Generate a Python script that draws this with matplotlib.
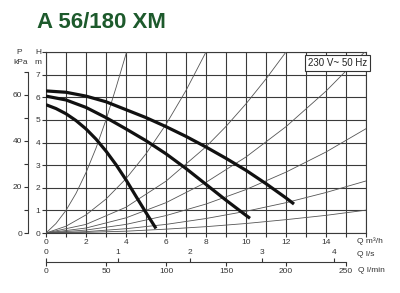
"""Curvas características da bomba A 56/180 XM"""
import matplotlib.pyplot as plt

plt.rcParams['font.family'] = ['Liberation Sans', 'DejaVu Sans']

# Curvas da bomba (3 velocidades): vazão Q [m3/h] e altura H [m]
q_vel3 = [0, 1, 2, 3, 4, 5, 6, 7, 8, 9, 10, 11, 12, 12.4]
h_vel3 = [6.28, 6.22, 6.05, 5.8, 5.45, 5.1, 4.7, 4.27, 3.8, 3.3, 2.77, 2.18, 1.55, 1.28]
q_vel2 = [0, 1, 2, 3, 4, 5, 6, 7, 8, 9, 10, 10.2]
h_vel2 = [6.05, 5.88, 5.55, 5.1, 4.6, 4.08, 3.5, 2.85, 2.15, 1.45, 0.78, 0.65]
q_vel1 = [0, 0.5, 1, 1.5, 2, 2.5, 3, 3.5, 4, 4.5, 5, 5.5]
h_vel1 = [5.67, 5.5, 5.27, 4.97, 4.6, 4.15, 3.62, 3.02, 2.35, 1.62, 0.9, 0.2]

# Curvas do sistema (linhas finas saindo da origem)
sistema = [
    ([0, 0.5, 1, 1.5, 2, 2.5, 3, 3.5, 4.03], [0, 0.42, 1.0, 1.75, 2.67, 3.75, 5.0, 6.42, 8.0]),
    ([0, 1, 2, 3, 4, 5, 6, 7, 8], [0, 0.3, 0.8, 1.5, 2.4, 3.5, 4.8, 6.3, 8.0]),
    ([0, 2, 4, 6, 8, 9, 10, 11, 12], [0, 0.38, 1.14, 2.29, 3.81, 4.71, 5.71, 6.81, 8.0]),
    ([0, 2, 4, 6, 8, 10, 12, 14, 16], [0, 0.22, 0.67, 1.34, 2.24, 3.36, 4.70, 6.27, 8.06]),
    ([0, 2, 4, 6, 8, 10, 12, 14, 16], [0, 0.13, 0.38, 0.77, 1.28, 1.92, 2.69, 3.58, 4.61]),
    ([0, 2, 4, 6, 8, 10, 12, 14, 16], [0, 0.06, 0.19, 0.38, 0.64, 0.96, 1.34, 1.79, 2.30]),
    ([0, 2, 4, 6, 8, 10, 12, 14, 16], [0, 0.03, 0.08, 0.17, 0.28, 0.42, 0.59, 0.78, 1.01]),
]

# Escalas auxiliares
ticks_kpa = [0, 20, 40, 60]
ticks_kpa_menor = [10, 30, 50, 70]
ticks_ls = [0, 1, 2, 3, 4]
ticks_lmin = [0, 50, 100, 150, 200, 250]

cor_txt = '#333333'
fig = plt.figure(figsize=(4.0, 2.93), dpi=100)
ax = fig.add_axes([46 / 400, 60 / 293, 320 / 400, 181 / 293])
ax.set_xlim(0, 16)
ax.set_ylim(0, 8)

# Grade
ax.set_xticks(range(0, 17))
ax.set_xticklabels([str(v) if v % 2 == 0 and v < 16 else '' for v in range(0, 17)])
ax.set_yticks(range(0, 9))
ax.set_yticklabels([str(v) if v < 8 else '' for v in range(0, 9)])
ax.grid(True, color='#3a3a3a', lw=0.8)
ax.tick_params(labelsize=6, length=3, width=0.8, pad=1, colors=cor_txt)
for s in ax.spines.values():
    s.set_color('#3a3a3a')
    s.set_linewidth(0.8)

for qs, hs in sistema:
    ax.plot(qs, hs, color='#555555', lw=0.6, zorder=3, clip_on=True)

for qs, hs in [(q_vel3, h_vel3), (q_vel2, h_vel2), (q_vel1, h_vel1)]:
    ax.plot(qs, hs, color='#111111', lw=2.3, zorder=4, solid_capstyle='butt')

ax.text(14.58, 7.52, '230 V~ 50 Hz', ha='center', va='center', fontsize=7,
        color='#222222', zorder=6,
        bbox=dict(boxstyle='square,pad=0.3', fc='white', ec='#333333', lw=0.8))

# Eixo de pressão em kPa
axp = ax.twinx()
axp.set_ylim(0, 8 * 9.80665)
axp.yaxis.set_ticks_position('left')
axp.yaxis.set_label_position('left')
for nome in ['top', 'right', 'bottom']:
    axp.spines[nome].set_visible(False)
axp.spines['left'].set_position(('outward', 13))
axp.spines['left'].set_bounds(0, 70)
axp.spines['left'].set_color('#3a3a3a')
axp.spines['left'].set_linewidth(0.8)
axp.set_yticks(ticks_kpa)
axp.set_yticks(ticks_kpa_menor, minor=True)
axp.tick_params(labelsize=6, length=3, width=0.8, pad=1, colors=cor_txt)
axp.tick_params(which='minor', length=3, width=0.8, colors=cor_txt)

# Eixo de vazão em l/s e l/min
axq = fig.add_axes([46 / 400, 31 / 293, 320 / 400, 0.001])
axq.set_facecolor('none')
axq.set_xlim(0, 16)
axq.set_yticks([])
for nome in ['top', 'left', 'right']:
    axq.spines[nome].set_visible(False)
axq.spines['bottom'].set_bounds(0, 15)
axq.spines['bottom'].set_color('#3a3a3a')
axq.spines['bottom'].set_linewidth(0.8)
axq.set_xticks([v * 0.06 for v in ticks_lmin])
axq.set_xticklabels([str(v) for v in ticks_lmin])
axq.tick_params(labelsize=6, length=3, width=0.8, pad=1, colors=cor_txt)
sec = axq.secondary_xaxis('top', functions=(lambda q: q / 3.6, lambda s: s * 3.6))
sec.set_xticks(ticks_ls)
sec.spines['top'].set_visible(False)
sec.tick_params(labelsize=6, length=3, width=0.8, pad=1, colors=cor_txt)

# Rótulos
fig.text(37 / 400, 1 - 22 / 293, 'A 56/180 XM', fontsize=16, fontweight='bold',
         color='#1d5a2c', ha='left', va='center')
fig.text(19 / 400, 1 - 53 / 293, 'P', fontsize=6, color=cor_txt, ha='center', va='center')
fig.text(21 / 400, 1 - 62 / 293, 'kPa', fontsize=6, color=cor_txt, ha='center', va='center')
fig.text(38 / 400, 1 - 53 / 293, 'H', fontsize=6, color=cor_txt, ha='center', va='center')
fig.text(38 / 400, 1 - 62 / 293, 'm', fontsize=6, color=cor_txt, ha='center', va='center')
fig.text(357 / 400, 1 - 241 / 293, 'Q m³/h', fontsize=6, color=cor_txt, ha='left', va='center')
fig.text(357 / 400, 1 - 254 / 293, 'Q l/s', fontsize=6, color=cor_txt, ha='left', va='center')
fig.text(358 / 400, 1 - 270 / 293, 'Q l/min', fontsize=6, color=cor_txt, ha='left', va='center')

fig.savefig('out.png', dpi=100)
